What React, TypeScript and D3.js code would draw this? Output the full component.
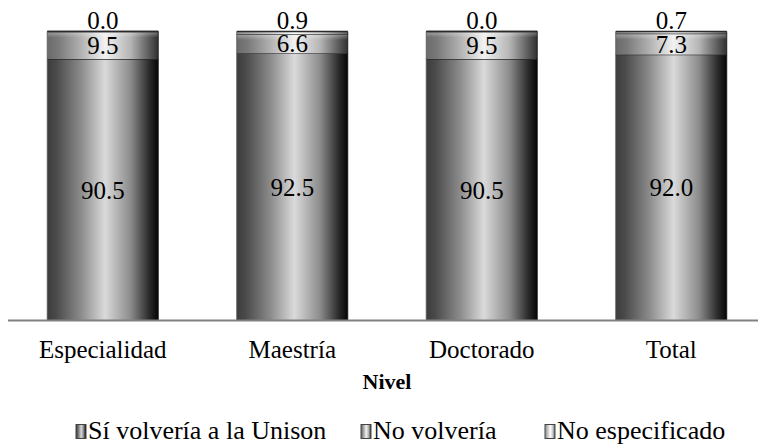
import React from "react";
import * as d3 from "d3";

const categories = ["Especialidad", "Maestría", "Doctorado", "Total"];
const seriesNames = ["Sí volvería a la Unison", "No volvería", "No especificado"];
const siVolveria = [90.5, 92.5, 90.5, 92.0];
const noVolveria = [9.5, 6.6, 9.5, 7.3];
const noEspecificado = [0.0, 0.9, 0.0, 0.7];
const axisTitle = "Nivel";

const W = 758;
const H = 444;

const gradStops = [
  [
    [0, "#3c3c3c"],
    [0.08, "#4a4a4a"],
    [0.3, "#8a8a8a"],
    [0.52, "#dadada"],
    [0.75, "#8c8c8c"],
    [0.92, "#2a2a2a"],
    [1, "#050505"],
  ],
  [
    [0, "#6a6a6a"],
    [0.1, "#7a7a7a"],
    [0.3, "#b0b0b0"],
    [0.52, "#f2f2f2"],
    [0.75, "#b5b5b5"],
    [0.92, "#5a5a5a"],
    [1, "#303030"],
  ],
  [
    [0, "#909090"],
    [0.3, "#c8c8c8"],
    [0.52, "#ffffff"],
    [0.75, "#cfcfcf"],
    [0.92, "#858585"],
    [1, "#606060"],
  ],
];

export default function App() {
  const x = d3
    .scaleBand()
    .domain(categories)
    .range([8, 766])
    .paddingInner(0.414)
    .paddingOuter(0.207);
  const y = d3.scaleLinear().domain([0, 100]).range([321, 31.5]);

  const rows = categories.map((c, i) => ({
    cat: c,
    s0: siVolveria[i],
    s1: noVolveria[i],
    s2: noEspecificado[i],
  }));
  const layers = d3.stack().keys(["s0", "s1", "s2"])(rows as any);

  const legendX = [76, 361, 545];
  const serif = { fontFamily: "Liberation Serif" };

  return (
    <svg width={W} height={H} style={{ position: "absolute", left: 0, top: 0 }}>
      <defs>
        {gradStops.map((stops, gi) => (
          <linearGradient key={gi} id={`g${gi}`} x1="0" x2="1" y1="0" y2="0">
            {stops.map(([o, c], k) => (
              <stop key={k} offset={o as number} stopColor={c as string} />
            ))}
          </linearGradient>
        ))}
        <linearGradient id="sheen" x1="0" x2="0" y1="0" y2="1">
          <stop offset="0" stopColor="#ffffff" stopOpacity={0.35} />
          <stop offset="0.5" stopColor="#ffffff" stopOpacity={0} />
          <stop offset="1" stopColor="#ffffff" stopOpacity={0} />
        </linearGradient>
      </defs>
      <rect width={W} height={H} fill="#ffffff" />
      {layers.map((layer, li) =>
        layer.map((d, i) => {
          const x0 = x(categories[i])!;
          const bw = x.bandwidth();
          const yTop = y(d[1]);
          const yBot = y(d[0]);
          const h = Math.max(0, yBot - yTop);
          return (
            <g key={`${li}-${i}`}>
              <rect x={x0} y={yTop} width={bw} height={h} fill={`url(#g${li})`} />
              {li > 0 && h > 4 && (
                <rect x={x0} y={yTop} width={bw} height={Math.min(h, 12)} fill="url(#sheen)" />
              )}
              <line x1={x0} x2={x0 + bw} y1={yTop} y2={yTop} stroke="#2a2a2a" strokeWidth={1.3} />
            </g>
          );
        })
      )}
      {categories.map((c) => (
        <g key={`o-${c}`}>
          <line x1={x(c)!} x2={x(c)!} y1={y(100)} y2={y(0)} stroke="#555" strokeWidth={0.8} />
          <line x1={x(c)! + x.bandwidth()} x2={x(c)! + x.bandwidth()} y1={y(100)} y2={y(0)} stroke="#111" strokeWidth={0.8} />
        </g>
      ))}
      <line x1={8} x2={W} y1={320.5} y2={320.5} stroke="#808080" strokeWidth={1.8} />
      {layers.map((layer, li) =>
        layer.map((d, i) => {
          const cx = x(categories[i])! + x.bandwidth() / 2;
          const v = (rows[i] as any)[`s${li}`] as number;
          const ty = li === 2 ? y(100) - 2.5 : (y(d[0]) + y(d[1])) / 2 + 8.5;
          return (
            <text key={`t-${li}-${i}`} x={cx} y={ty} textAnchor="middle" fontSize={25} style={serif}>
              {v.toFixed(1)}
            </text>
          );
        })
      )}
      {categories.map((c) => (
        <text key={`c-${c}`} x={x(c)! + x.bandwidth() / 2} y={358} textAnchor="middle" fontSize={25} style={serif}>
          {c}
        </text>
      ))}
      <text x={387} y={389} textAnchor="middle" fontSize={22} fontWeight="bold" style={serif}>
        {axisTitle}
      </text>
      {seriesNames.map((s, i) => (
        <g key={`l-${i}`}>
          <rect x={legendX[i]} y={424.5} width={10} height={14} fill={`url(#g${i})`} stroke="#444" strokeWidth={1} />
          <text x={legendX[i] + 12} y={439} fontSize={26} style={serif}>
            {s}
          </text>
        </g>
      ))}
    </svg>
  );
}
